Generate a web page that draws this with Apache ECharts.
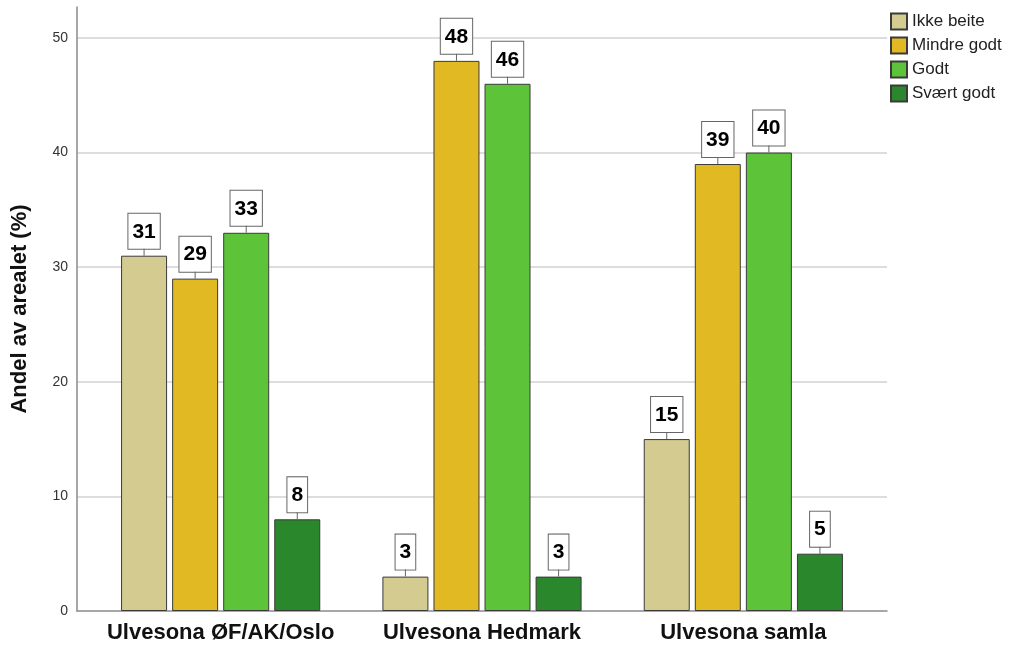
<!DOCTYPE html>
<html>
<head>
<meta charset="utf-8">
<script src="https://cdn.jsdelivr.net/npm/echarts@6/dist/echarts.min.js"></script>
<style>
  html, body { margin: 0; padding: 0; background: #fff; }
  #chart { width: 1011px; height: 646px; }
</style>
</head>
<body>
<div id="chart"></div>
<script>
// Regions and the share of the area (%) in each grazing class
const categories = ['Ulvesona ØF/AK/Oslo', 'Ulvesona Hedmark', 'Ulvesona samla'];
const ikkeBeite = [31, 3, 15];
const mindreGodt = [29, 48, 39];
const godt = [33, 46, 40];
const svaertGodt = [8, 3, 5];
const yTicks = [0, 10, 20, 30, 40, 50];

const FONT = '"Liberation Sans", Arial, sans-serif';
const Y_MAX = 52.7;

const chart = echarts.init(document.getElementById('chart'), null, { renderer: 'canvas' });

// Value label: a white boxed number with a short stem down to the bar top
function barSeries(name, values, color) {
  return {
    name: name,
    type: 'bar',
    xAxisIndex: 1,
    yAxisIndex: 1,
    data: values,
    barWidth: 46,
    barGap: '11%',
    itemStyle: { color: color, borderColor: '#3a3a3a', borderWidth: 1 },
    label: {
      show: true,
      position: 'top',
      distance: 0,
      align: 'center',
      formatter: function (p) { return '{box|' + p.value + '}\n{stem|}'; },
      rich: {
        box: {
          fontFamily: FONT,
          fontSize: 21,
          fontWeight: 'bold',
          color: '#000',
          height: 24,
          lineHeight: 35,
          backgroundColor: '#fff',
          borderColor: '#666',
          borderWidth: 1,
          padding: [6, 4, 5, 4],
          align: 'center'
        },
        stem: {
          width: 1,
          height: 7,
          lineHeight: 7,
          backgroundColor: '#666',
          align: 'center'
        }
      }
    },
    emphasis: { disabled: true }
  };
}

const option = {
  backgroundColor: '#fff',
  animation: false,
  textStyle: { fontFamily: FONT },
  legend: {
    orient: 'vertical',
    left: 890,
    top: 12,
    padding: 0,
    itemWidth: 16,
    itemHeight: 16,
    itemGap: 5,
    icon: 'rect',
    textStyle: { fontSize: 17, lineHeight: 19, color: '#222', fontFamily: FONT },
    data: ['Ikke beite', 'Mindre godt', 'Godt', 'Svært godt']
  },
  grid: [
    { left: 77, right: 124, top: 7, bottom: 35 },
    { left: 90, right: 137, top: 7, bottom: 35 }
  ],
  xAxis: [
    {
      gridIndex: 0,
      type: 'value',
      min: 0,
      max: 1,
      axisLine: { show: true, onZero: false, lineStyle: { color: '#8a8a8a', width: 1.5 } },
      axisTick: { show: false },
      axisLabel: { show: false },
      splitLine: { show: false }
    },
    {
      gridIndex: 1,
      type: 'category',
      data: categories,
      axisLine: { show: false },
      axisTick: { show: false },
      axisLabel: {
        interval: 0,
        fontFamily: FONT,
        fontSize: 22,
        fontWeight: 'bold',
        color: '#111',
        margin: 11
      }
    }
  ],
  yAxis: [
    {
      gridIndex: 0,
      type: 'value',
      min: 0,
      max: Y_MAX,
      interval: 10,
      name: 'Andel av arealet (%)',
      nameLocation: 'middle',
      nameGap: 46,
      nameTextStyle: { fontFamily: FONT, fontSize: 22, fontWeight: 'bold', color: '#111' },
      axisLine: { show: true, onZero: false, lineStyle: { color: '#8a8a8a', width: 1.5 } },
      axisTick: { show: false },
      axisLabel: {
        fontFamily: FONT,
        fontSize: 14,
        color: '#333',
        margin: 9,
        showMaxLabel: false,
        formatter: function (v) { return yTicks.indexOf(v) >= 0 ? String(v) : ''; }
      },
      splitLine: { show: true, showMinLine: false, showMaxLine: false, lineStyle: { color: '#d2d2d2', width: 1.5 } }
    },
    {
      gridIndex: 1,
      type: 'value',
      min: 0,
      max: Y_MAX,
      show: false,
      splitLine: { show: false }
    }
  ],
  series: [
    barSeries('Ikke beite', ikkeBeite, '#D3CB90'),
    barSeries('Mindre godt', mindreGodt, '#E1B922'),
    barSeries('Godt', godt, '#5DC43A'),
    barSeries('Svært godt', svaertGodt, '#2A872C')
  ]
};

chart.setOption(option);
</script>
</body>
</html>
